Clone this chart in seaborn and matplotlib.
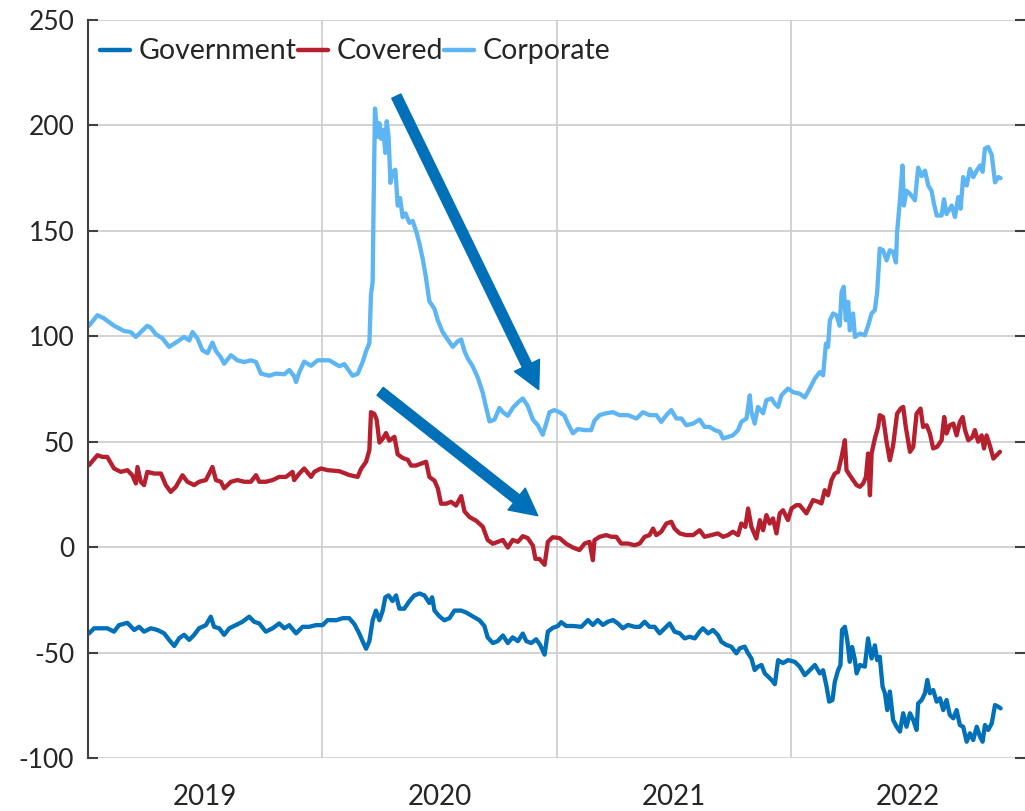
import numpy as np
import pandas as pd
import matplotlib
matplotlib.use("Agg")
import matplotlib.pyplot as plt
import matplotlib.dates as mdates
import seaborn as sns

# spread levels (bp), x given as years elapsed since 2019-01-01
gov_t = [0.004, 0.026, 0.054, 0.082, 0.111, 0.132, 0.168, 0.197, 0.218, 0.239,
         0.268, 0.296, 0.325, 0.346, 0.368, 0.389, 0.410, 0.432, 0.453, 0.474,
         0.503, 0.524, 0.538, 0.560, 0.581, 0.603, 0.631, 0.659, 0.688, 0.709,
         0.731, 0.759, 0.788, 0.816, 0.838, 0.859, 0.888, 0.916, 0.944, 0.973,
         1.001, 1.023,
         1.059, 1.087, 1.115, 1.137, 1.158, 1.172, 1.187, 1.201, 1.215, 1.229,
         1.244, 1.258, 1.269, 1.283, 1.300, 1.315, 1.329, 1.350, 1.372, 1.393,
         1.415, 1.436, 1.457, 1.469, 1.479, 1.500, 1.521, 1.543, 1.564, 1.593,
         1.614, 1.642, 1.671, 1.692, 1.706, 1.728, 1.749, 1.771, 1.792, 1.813,
         1.835, 1.856, 1.871, 1.892, 1.913, 1.930, 1.949, 1.963, 1.984, 2.006,
         2.020, 2.041, 2.070,
         2.106, 2.134, 2.155, 2.176, 2.198, 2.219, 2.241, 2.262, 2.283, 2.305,
         2.333, 2.355, 2.376, 2.397, 2.419, 2.440, 2.462, 2.483, 2.504, 2.526,
         2.547, 2.568, 2.590, 2.611, 2.625, 2.647, 2.668, 2.689, 2.704, 2.725,
         2.746, 2.768, 2.782, 2.803, 2.818, 2.832, 2.846, 2.860, 2.875, 2.889,
         2.903, 2.918, 2.932, 2.946, 2.967, 2.988,
         3.017, 3.038, 3.060, 3.081, 3.103, 3.124, 3.138, 3.153, 3.164, 3.178,
         3.188, 3.202, 3.212, 3.219, 3.231, 3.241, 3.252, 3.262, 3.274, 3.281,
         3.295, 3.316, 3.330, 3.345, 3.359, 3.369, 3.380, 3.392, 3.402, 3.412,
         3.423, 3.437, 3.452, 3.466, 3.480, 3.494, 3.509, 3.523, 3.537, 3.544,
         3.559, 3.573, 3.583, 3.594, 3.608, 3.623, 3.637, 3.651, 3.665, 3.679,
         3.694, 3.708, 3.722, 3.736, 3.751, 3.765, 3.779, 3.794, 3.808, 3.819,
         3.829, 3.843, 3.858, 3.872, 3.886, 3.896]
gov_v = [-40.9, -38.5, -38.5, -38.5, -40.1, -37, -35.9, -39.3, -37.8, -40.1,
         -38.5, -39.3, -40.9, -44, -46.9, -43.2, -41.6, -44, -41.6, -38.5,
         -37, -33, -37.8, -38.5, -41.6, -38.5, -37, -35.4, -33, -35.4,
         -36.2, -40.1, -38.5, -36.2, -38.5, -37, -40.9, -37.8, -37.8, -37,
         -37, -34.6,
         -34.7, -33.7, -33.7, -36.5, -41, -44.6, -48.2, -44.6, -34.7, -30.1,
         -34.7, -30.1, -23.8, -22.9, -25.6, -22.9, -29.2, -29.2, -25.6, -22.9,
         -22, -22.9, -26.5, -23.8, -30.1, -32.8, -34.7, -33.7, -30.1, -30.1,
         -31, -32.8, -34.7, -37.4, -42.8, -45.5, -44.6, -41.9, -45.5, -42.8,
         -44.6, -41, -44.6, -45.5, -43.7, -46.4, -51, -40.1, -38.3, -37.4,
         -35.6, -37.4, -37.4,
         -37.8, -34.6, -36.9, -34.6, -36.9, -35.4, -34.6, -36.2, -38.5, -36.9,
         -37.8, -37.8, -35.4, -37.8, -37.8, -40.9, -38.5, -36.2, -40.1, -40.9,
         -43.3, -42.5, -43.3, -40.1, -38.5, -40.9, -39.3, -41.7, -44.9, -46.4,
         -47.2, -50.4, -48, -47.2, -50.4, -52.8, -58.3, -56.7, -55.9, -59.9,
         -61.4, -63, -65, -53.6, -55, -53.6,
         -54.4, -56.7, -60.7, -58.4, -55.9, -59.9, -58.4, -66.2, -73.3, -72.5,
         -63.9, -58.4, -56, -39.3, -37.8, -44, -54.4, -47.4, -53.6, -59.9,
         -55.9, -56.7, -43.3, -52.8, -46.6, -53.6, -52, -66.2, -69.3, -77.3,
         -68.5, -82, -85.2, -87.5, -78.8, -85.2, -78.8, -82, -86.7, -74.1,
         -72.5, -69.3, -63, -69.3, -67.8, -73.3, -71.7, -77.3, -72.5, -79.6,
         -81.2, -77.3, -84.4, -85.2, -92.3, -88.3, -91.5, -85.2, -89.9, -92.3,
         -84.4, -86.7, -83.6, -74.9, -75.7, -76.5]

cov_t = [0.004, 0.040, 0.061, 0.082, 0.111, 0.140, 0.168, 0.189, 0.204, 0.211,
         0.225, 0.239, 0.253, 0.282, 0.311, 0.332, 0.353, 0.375, 0.403, 0.424,
         0.453, 0.474, 0.503, 0.531, 0.546, 0.567, 0.581, 0.610, 0.638, 0.667,
         0.695, 0.717, 0.731, 0.759, 0.788, 0.816, 0.845, 0.873, 0.880, 0.902,
         0.923, 0.952, 0.966, 0.994, 1.023,
         1.073, 1.115, 1.151, 1.165, 1.187, 1.201, 1.208, 1.222, 1.232, 1.244,
         1.258, 1.272, 1.286, 1.308, 1.322, 1.343, 1.365, 1.379, 1.400, 1.422,
         1.443, 1.457, 1.479, 1.493, 1.507, 1.529, 1.550, 1.571, 1.593, 1.607,
         1.628, 1.657, 1.685, 1.706, 1.728, 1.749, 1.771, 1.792, 1.813, 1.835,
         1.856, 1.877, 1.899, 1.910, 1.927, 1.949, 1.963, 1.984, 2.013, 2.041,
         2.070,
         2.098, 2.120, 2.141, 2.155, 2.162, 2.184, 2.212, 2.234, 2.255, 2.276,
         2.305, 2.333, 2.355, 2.376, 2.397, 2.412, 2.426, 2.447, 2.469, 2.490,
         2.504, 2.526, 2.554, 2.583, 2.611, 2.632, 2.661, 2.689, 2.711, 2.732,
         2.753, 2.775, 2.789, 2.806, 2.818, 2.832, 2.853, 2.868, 2.882, 2.896,
         2.910, 2.924, 2.939, 2.953, 2.967, 2.988, 3.003, 3.024,
         3.038, 3.067, 3.095, 3.117, 3.131, 3.145, 3.159, 3.174, 3.188, 3.202,
         3.217, 3.231, 3.238, 3.252, 3.266, 3.281, 3.295, 3.309, 3.321, 3.330,
         3.338, 3.345, 3.359, 3.373, 3.380, 3.394, 3.409, 3.423, 3.437, 3.454,
         3.469, 3.480, 3.491, 3.509, 3.523, 3.537, 3.554, 3.565, 3.580, 3.594,
         3.608, 3.625, 3.644, 3.655, 3.665, 3.679, 3.694, 3.708, 3.722, 3.734,
         3.744, 3.758, 3.776, 3.786, 3.800, 3.815, 3.825, 3.836, 3.850, 3.865,
         3.879, 3.893]
cov_v = [38.9, 43.6, 42.8, 42.8, 37.3, 35.7, 36.5, 34.1, 30.2, 38,
         31, 29.4, 35.7, 34.9, 34.9, 29.4, 26.2, 28.6, 34.1, 31,
         29.4, 31, 31.8, 38, 31.8, 31, 27.9, 31, 31.8, 31,
         31, 34.1, 31, 31, 31.8, 33.3, 33.3, 35.7, 31.8, 34.9,
         37.3, 33.3, 35.7, 37.3, 36.5,
         36, 34.2, 33.3, 37, 40.5, 46, 64, 63.2, 60.5, 49.6,
         51.4, 54.1, 50.5, 52.3, 44, 42.3, 41.4, 38.7, 38.7, 39.6,
         40.5, 33.3, 31.5, 27.9, 20.6, 20.6, 21.5, 19.7, 24.2, 17,
         14.3, 12.5, 9.7, 3.4, 1.6, 2.5, 3.4, -0.2, 3.4, 2.5,
         5.2, 4.3, 0.7, -5.6, -5.6, -8.4, 2.5, 4.7, 4.3, 1.6,
         -0.2,
         -1.4, 1.7, 2.5, -6.2, 3.3, 4.9, 5.7, 4.9, 4.9, 1.7,
         1.7, 0.9, 1.7, 4.9, 5.7, 8.8, 5.7, 7.3, 11.2, 12,
         8.8, 6.5, 5.7, 5.7, 8, 4.9, 5.7, 6.5, 4.9, 5.7,
         7.3, 5.7, 11.2, 9.6, 18.3, 9.6, 4.1, 12.8, 8, 15.2,
         11.2, 13.6, 6.5, 16, 17.5, 12.8, 18.3, 19.9,
         19.9, 16, 22.3, 21.5, 20.7, 27, 24.6, 31.8, 34.9, 35.7,
         42.8, 50.7, 36.5, 34.1, 31.8, 29.4, 28.6, 30.2, 33.3, 44.4,
         24.6, 44.4, 51.5, 57, 62.6, 61.7, 50, 41.2, 48.2, 63.3,
         65.7, 66.5, 57, 45.2, 47.6, 63.3, 65.7, 57, 57.8, 53.9,
         46.8, 47.6, 50.7, 61.7, 53.9, 57.8, 58.6, 53, 59.4, 61.7,
         55.5, 50.7, 52.3, 55.5, 50, 53, 46.8, 53, 48.2, 42,
         43.6, 45.2]

corp_t = [0.004, 0.040, 0.068, 0.111, 0.154, 0.182, 0.204, 0.225, 0.253, 0.268,
          0.289, 0.318, 0.346, 0.375, 0.410, 0.432, 0.446, 0.467, 0.488, 0.510,
          0.531, 0.546, 0.567, 0.581, 0.610, 0.638, 0.667, 0.695, 0.717, 0.738,
          0.774, 0.802, 0.838, 0.859, 0.880, 0.888, 0.902, 0.923, 0.952, 0.980,
          1.009,
          1.030, 1.073, 1.094, 1.129, 1.151, 1.172, 1.187, 1.201, 1.208, 1.215,
          1.219, 1.225, 1.236, 1.244, 1.251, 1.261, 1.269, 1.275, 1.283, 1.291,
          1.300, 1.312, 1.322, 1.332, 1.343, 1.355, 1.372, 1.386, 1.403, 1.415,
          1.429, 1.443, 1.457, 1.479, 1.493, 1.514, 1.535, 1.557, 1.578, 1.593,
          1.607, 1.621, 1.642, 1.664, 1.685, 1.700, 1.714, 1.735, 1.756, 1.771,
          1.792, 1.813, 1.835, 1.856, 1.877, 1.899, 1.920, 1.941, 1.956, 1.970,
          1.991, 2.013, 2.034, 2.048, 2.070, 2.091,
          2.120, 2.148, 2.162, 2.184, 2.212, 2.241, 2.269, 2.305, 2.341, 2.369,
          2.397, 2.426, 2.447, 2.469, 2.490, 2.512, 2.533, 2.554, 2.583, 2.611,
          2.632, 2.654, 2.675, 2.697, 2.711, 2.732, 2.753, 2.775, 2.789, 2.811,
          2.825, 2.832, 2.846, 2.860, 2.882, 2.896, 2.918, 2.932, 2.946, 2.960,
          2.988, 3.010,
          3.038, 3.060, 3.081, 3.103, 3.124, 3.138, 3.150, 3.159, 3.167, 3.181,
          3.195, 3.209, 3.217, 3.226, 3.235, 3.245, 3.252, 3.266, 3.274, 3.295,
          3.316, 3.330, 3.345, 3.359, 3.369, 3.380, 3.394, 3.409, 3.423, 3.437,
          3.449, 3.454, 3.466, 3.477, 3.483, 3.494, 3.509, 3.530, 3.544, 3.559,
          3.573, 3.587, 3.601, 3.611, 3.623, 3.644, 3.654, 3.665, 3.687, 3.701,
          3.715, 3.725, 3.736, 3.751, 3.765, 3.779, 3.794, 3.808, 3.819, 3.829,
          3.843, 3.858, 3.872, 3.886, 3.896]
corp_v = [105, 110, 108.5, 105, 102.5, 102, 99.7, 102, 105, 104,
          101, 99, 95, 97, 99.7, 98, 102, 99, 93.4, 92,
          97, 93, 90, 87, 91, 88.6, 87.8, 88.6, 87.8, 82.3,
          81.3, 82.3, 82, 84, 81, 78.3, 83, 88, 86, 88.6,
          88.6,
          88.6, 85.8, 86.8, 81.3, 82.2, 87.7, 93, 96.7, 120, 125.7,
          162, 208, 194.6, 201, 193.7, 198, 187, 202, 194.6, 172.8,
          178, 179, 162, 165.6, 156.5, 158.3, 153.8, 154.7, 149, 143.8,
          136.6, 127.5, 116.7, 113, 107.6, 102, 98.5, 95, 97.6, 98.5,
          93, 89.5, 85.8, 80.4, 73.2, 66, 59.6, 60.5, 66, 64,
          62.3, 66, 68.6, 70.5, 67, 60.5, 57.8, 53.3, 58.7, 64,
          65, 64, 62.3, 58.7, 54, 56,
          55.5, 55.5, 60, 62.6, 63.5, 64, 62.6, 62.6, 61, 64,
          62.6, 62.6, 59.4, 62.6, 65, 61, 61, 57.8, 58.6, 60.5,
          57, 57, 55.5, 54.7, 51.5, 52.3, 53, 55.5, 59.4, 61,
          72, 64, 58.6, 66.5, 63.5, 69.7, 70.5, 68, 66.5, 72,
          75.2, 73.5,
          72.8, 71, 75.2, 80, 83, 81.5, 96.5, 94.9, 107.6, 110.8,
          110, 105, 121, 123.5, 107.6, 116.3, 102.8, 110.8, 99.7, 101.3,
          100.5, 105, 110.8, 112.4, 121, 141.6, 140.8, 136, 140.8, 140,
          135, 149.4, 164.5, 181, 162, 169, 167.6, 164.5, 180, 176,
          178.6, 171.5, 169, 163, 157.3, 157.3, 165, 158, 162, 156.6,
          166, 160.5, 175.5, 171.5, 179.4, 175.5, 178.6, 181, 178, 189,
          189.8, 186, 173, 175.5, 175]

series_names = ["Government", "Covered", "Corporate"]
colors = {"Government": "#0070B8", "Covered": "#B51F2E", "Corporate": "#5EB5F3"}
years = [2019, 2020, 2021, 2022]
y_ticks = [-100, -50, 0, 50, 100, 150, 200, 250]

start = pd.Timestamp("2019-01-01")


def to_dates(t):
    return start + pd.to_timedelta(np.asarray(t) * 365.25, unit="D")


df = pd.concat([
    pd.DataFrame({"date": to_dates(gov_t), "spread": gov_v, "segment": "Government"}),
    pd.DataFrame({"date": to_dates(cov_t), "spread": cov_v, "segment": "Covered"}),
    pd.DataFrame({"date": to_dates(corp_t), "spread": corp_v, "segment": "Corporate"}),
], ignore_index=True)

sns.set_style("white")
plt.rcParams["font.family"] = ["Lato", "DejaVu Sans"]
plt.rcParams["axes.unicode_minus"] = False

fig = plt.figure(figsize=(10.25, 8.11), dpi=100)
ax = fig.add_axes([0.0859, 0.0654, 0.9141, 0.9099])

sns.lineplot(data=df, x="date", y="spread", hue="segment", hue_order=series_names,
             palette=colors, estimator=None, linewidth=3.1, ax=ax)

ax.set_xlim(start, pd.Timestamp("2023-01-01"))
ax.set_ylim(-100, 250)
ax.set_yticks(y_ticks)
ax.set_yticklabels([str(v) for v in y_ticks])

mid = [pd.Timestamp(f"{y}-07-02") for y in years]
bounds = [pd.Timestamp(f"{y}-01-01") for y in years[1:]]
ax.set_xticks(mid)
ax.set_xticklabels([str(y) for y in years])
ax.set_xticks(bounds, minor=True)
ax.set_xlabel("")
ax.set_ylabel("")

ax.grid(axis="y", which="major", color="#CFCFCF", linewidth=1.3)
ax.grid(axis="x", which="minor", color="#CFCFCF", linewidth=1.3)
ax.grid(axis="x", which="major", visible=False)
ax.set_axisbelow(True)

ax.tick_params(axis="x", which="both", length=0, labelsize=20, pad=19)
ax.tick_params(axis="y", direction="in", left=True, right=True, length=7, width=1.5,
               color="#404040", labelsize=19, pad=10)

for side in ["top", "right", "bottom"]:
    ax.spines[side].set_visible(False)
ax.spines["left"].set_color("#404040")
ax.spines["left"].set_linewidth(1.5)

# trend arrows
arrow_style = "simple,head_length=0.97,head_width=1.0,tail_width=0.36"
for (t0, v0), (t1, v1) in [((1.316, 213.9), (1.924, 74.7)), ((1.247, 73.9), (1.920, 14.9))]:
    ax.annotate("", xy=(mdates.date2num(to_dates([t1])[0]), v1),
                xytext=(mdates.date2num(to_dates([t0])[0]), v0),
                arrowprops=dict(arrowstyle=arrow_style, mutation_scale=20,
                                color="#0070B8", shrinkA=0, shrinkB=0))

sns.move_legend(ax, "upper left", bbox_to_anchor=(0.013, 0.975), ncol=3, frameon=False,
                title=None, fontsize=20.5, handlelength=1.05, handletextpad=0.3,
                columnspacing=0.05, borderaxespad=0, borderpad=0)
for h in ax.get_legend().legend_handles:
    h.set_linewidth(3.2)

fig.savefig("out.png", dpi=100)
